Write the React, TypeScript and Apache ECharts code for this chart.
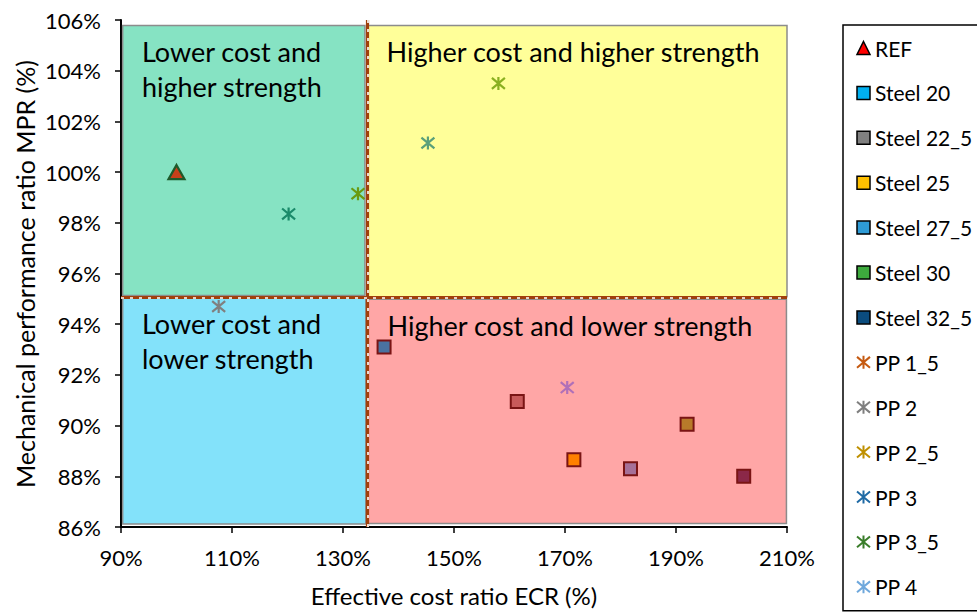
import React, { useEffect, useRef } from "react";
import * as echarts from "echarts";

// ---- data ----
const xTickValues = [90, 110, 130, 150, 170, 190, 210];
const refName = "REF";
const refECR = [100];
const refMPR = [100];
const steelNames = ["Steel 20", "Steel 22_5", "Steel 25", "Steel 27_5", "Steel 30", "Steel 32_5"];
const steelECR = [137.4, 161.4, 171.6, 181.8, 192.0, 202.2];
const steelMPR = [93.1, 90.95, 88.65, 88.3, 90.05, 88.0];
const ppNames = ["PP 1_5", "PP 2", "PP 2_5", "PP 3", "PP 3_5", "PP 4"];
const ppECR = [107.6, 120.2, 132.7, 145.3, 158.0, 170.4];
const ppMPR = [94.7, 98.35, 99.15, 101.15, 103.5, 91.5];
const quadrantNames = [
  "Lower cost and\nhigher strength",
  "Higher cost and higher strength",
  "Higher cost and lower strength",
  "Lower cost and\nlower strength",
];
const dividerECR = 134.4;
const dividerMPR = 95.05;

// ---- styles ----
const FONT = "Lato";
const steelPlotColors = ["#4A72A0", "#C85A5A", "#FF8000", "#A67098", "#B87A2A", "#8B2848"];
const steelLegendColors = ["#00B0F0", "#808080", "#FFC000", "#2E9BD6", "#3DAA3D", "#0B4C7E"];
const ppPlotColors = ["#808080", "#1A8A6A", "#6A9A10", "#5AA07A", "#8AB020", "#B070B8"];
const ppLegendColors = ["#C55A11", "#7F7F7F", "#BF9000", "#1F6AA5", "#3A7D2A", "#6FA8DC"];
const quadrantColors = ["#86E3C3", "#FFFF99", "#FFA6A6", "#83E2FA"];
const quadrantRects = [
  [[90.3, 105.78], [133.95, 95.13]],
  [[134.37, 105.78], [210.4, 95.08]],
  [[134.55, 94.98], [209.9, 86.14]],
  [[90.3, 95.04], [134.1, 86.12]],
];
const ASTERISK = "path://M0,1L12,11M12,1L0,11M6,0L6,12";

export default function App() {
  const ref = useRef<HTMLDivElement>(null);
  useEffect(() => {
    if (!ref.current) return;
    const chart = echarts.init(ref.current, null, { renderer: "svg" });

    const series: any[] = [];
    // quadrants
    series.push({
      type: "scatter",
      name: "__quadrants",
      data: [],
      z: 1,
      clip: false,
      silent: true,
      markArea: {
        silent: true,
        label: {
          show: true,
          position: "insideTopLeft",
          distance: 0,
          offset: [20, 9],
          fontFamily: FONT,
          fontSize: 27,
          lineHeight: 35,
          color: "#000",
        },
        data: quadrantRects.map((r, i) => [
          {
            name: quadrantNames[i],
            coord: r[0],
            itemStyle: { color: quadrantColors[i], borderColor: "#8C8C8C", borderWidth: 1.5 },
          },
          { coord: r[1] },
        ]),
      },
    });
    // dividers
    const brown = { color: "#A0400C", width: 3.2, type: "solid" };
    const white = { color: "#FFFFFF", width: 1.6, type: [3, 6] };
    series.push({
      type: "scatter",
      name: "__dividers",
      data: [],
      z: 2,
      clip: false,
      silent: true,
      markLine: {
        silent: true,
        symbol: "none",
        label: { show: false },
        data: [
          [{ coord: [dividerECR, 106], lineStyle: brown }, { coord: [dividerECR, 86] }],
          [{ coord: [90, dividerMPR], lineStyle: brown }, { coord: [210, dividerMPR] }],
          [{ coord: [dividerECR, 106], lineStyle: white }, { coord: [dividerECR, 86] }],
          [{ coord: [90, dividerMPR], lineStyle: white }, { coord: [210, dividerMPR] }],
        ],
      },
    });
    series.push({
      type: "scatter",
      name: refName,
      z: 3,
      symbol: "triangle",
      symbolSize: [16, 14],
      data: refECR.map((x, i) => [x, refMPR[i]]),
      itemStyle: { color: "#C8401A", borderColor: "#1E5A2A", borderWidth: 2.2, opacity: 1 },
    });
    steelNames.forEach((n, i) => {
      series.push({
        type: "scatter",
        name: n,
        z: 3,
        symbol: "rect",
        symbolSize: 13,
        data: [[steelECR[i], steelMPR[i]]],
        itemStyle: { color: steelPlotColors[i], borderColor: "#7A1414", borderWidth: 2, opacity: 1 },
      });
    });
    ppNames.forEach((n, i) => {
      series.push({
        type: "scatter",
        name: n,
        z: 3,
        symbol: ASTERISK,
        symbolSize: 13,
        data: [[ppECR[i], ppMPR[i]]],
        itemStyle: { color: "transparent", borderColor: ppPlotColors[i], borderWidth: 2.2, opacity: 1 },
      });
    });

    const legendData: any[] = [
      {
        name: refName,
        icon: "triangle",
        itemStyle: { color: "#FF0000", borderColor: "#000", borderWidth: 1.5 },
      },
      ...steelNames.map((n, i) => ({
        name: n,
        icon: "rect",
        itemStyle: { color: steelLegendColors[i], borderColor: "#000", borderWidth: 1.5 },
      })),
      ...ppNames.map((n, i) => ({
        name: n,
        icon: ASTERISK,
        itemStyle: { color: "transparent", borderColor: ppLegendColors[i], borderWidth: 2 },
      })),
    ];

    chart.setOption({
      animation: false,
      backgroundColor: "#FFFFFF",
      textStyle: { fontFamily: FONT },
      grid: { left: 121, right: 190, top: 20, bottom: 85, outerBoundsMode: "none", containLabel: false },
      legend: {
        orient: "vertical",
        left: 843,
        top: 25,
        padding: [12, 40, 13, 13],
        borderColor: "#000",
        borderWidth: 1.5,
        itemWidth: 13,
        itemHeight: 13,
        itemGap: 22.9,
        selectedMode: false,
        data: legendData,
        textStyle: { fontFamily: FONT, fontSize: 21, lineHeight: 22, color: "#000" },
      },
      xAxis: {
        type: "value",
        min: 90,
        max: 210,
        name: "Effective cost ratio ECR (%)",
        nameLocation: "middle",
        nameGap: 56,
        nameTextStyle: { fontFamily: FONT, fontSize: 24, color: "#000" },
        splitLine: { show: false },
        axisLine: { show: true, onZero: false, lineStyle: { color: "#000", width: 2 } },
        axisTick: {
          show: true,
          inside: false,
          length: 6,
          customValues: xTickValues,
          lineStyle: { color: "#000", width: 1.5 },
        },
        axisLabel: {
          show: true,
          margin: 19,
          fontFamily: FONT,
          fontSize: 22,
          color: "#000",
          customValues: xTickValues,
          formatter: (v: number) => `${v}%`,
        },
      },
      yAxis: {
        type: "value",
        min: 86,
        max: 106,
        interval: 2,
        splitLine: { show: false },
        axisLine: { show: true, onZero: false, lineStyle: { color: "#000", width: 2 } },
        axisTick: { show: true, inside: false, length: 6, lineStyle: { color: "#000", width: 1.5 } },
        axisLabel: {
          show: true,
          margin: 20,
          fontFamily: FONT,
          fontSize: 22,
          color: "#000",
          formatter: (v: number) => `${v}%`,
        },
      },
      graphic: [
        {
          type: "text",
          x: 25,
          y: 274,
          rotation: Math.PI / 2,
          style: {
            text: "Mechanical performance ratio MPR (%)",
            fontFamily: FONT,
            fontSize: 25,
            fill: "#000",
            align: "center",
            verticalAlign: "middle",
          },
        },
      ],
      series,
    });
    return () => chart.dispose();
  }, []);
  return (
    <div
      ref={ref}
      style={{ position: "fixed", left: 0, top: 0, width: 977, height: 612, background: "#fff" }}
    />
  );
}
